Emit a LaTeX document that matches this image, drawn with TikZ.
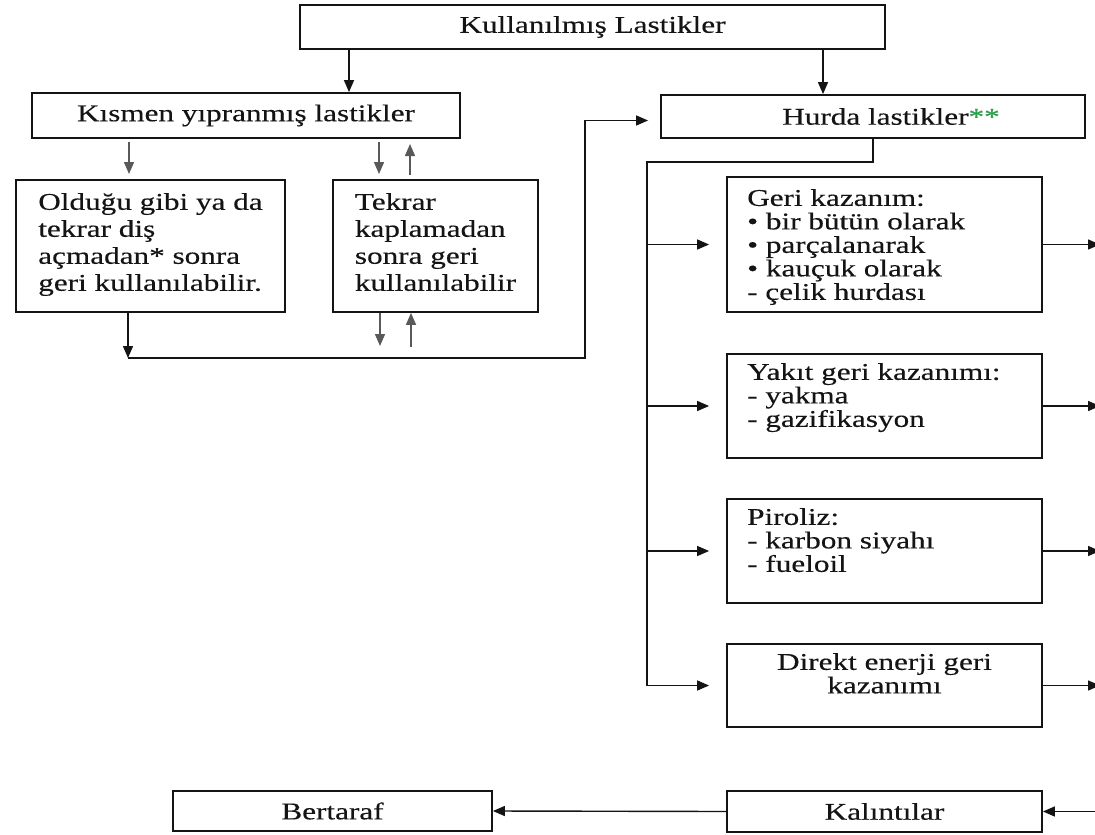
\documentclass[tikz,border=0pt]{standalone}
\usepackage{fontspec}
\setmainfont{Liberation Serif}[FakeStretch=1.3,FakeBold=0.3]
\usetikzlibrary{arrows.meta}
\definecolor{ink}{HTML}{141414}
\definecolor{starg}{HTML}{2E9E4F}
\begin{document}
\begin{tikzpicture}[x=1pt,y=-1pt,
  box/.style={draw=ink, line width=1.8pt, inner sep=0pt, text=ink,
              font=\fontsize{24}{27}\selectfont},
  txt/.style={inner sep=0pt, align=left, text=ink,
              font=\fontsize{24}{23.5}\selectfont},
  conn/.style={draw=ink, line width=1.4pt},
  arr/.style={conn, -{Triangle[length=12pt,width=10pt]}},
  sarr/.style={arr, draw=black!65},
]
\fill[white] (0,0) rectangle (1095,835);
\useasboundingbox (0,0) rectangle (1095,835);

% main boxes
\node[box, minimum width=585pt, minimum height=44pt] (top) at (592.5,27) {Kullanılmış Lastikler};
\node[box, minimum width=428pt, minimum height=45pt] (kismen) at (246,115.5) {Kısmen yıpranmış lastikler};
\node[box, minimum width=424pt, minimum height=43pt] (hurda) at (873,116.5)
  {\hspace*{36pt}Hurda lastikler\textcolor{starg}{**}};

\node[box, align=left, minimum width=269pt, minimum height=132pt] (oldu) at (150.5,246)
  {Olduğu gibi ya da\\tekrar diş\\açmadan* sonra\\geri kullanılabilir.\strut};
\node[box, align=left, minimum width=205pt, minimum height=132pt] (tekrar) at (435.5,246)
  {Tekrar\\kaplamadan\\sonra geri\\kullanılabilir\strut};

% recovery routes
\node[box, minimum width=315pt, minimum height=135pt] (geri) at (884.5,244.5) {};
\node[txt, anchor=north west] (geri-t) at (747,189)
  {Geri kazanım:\\• bir bütün olarak\\• parçalanarak\\• kauçuk olarak\\- çelik hurdası};
\node[box, minimum width=315pt, minimum height=104pt] (yakit) at (884.5,406) {};
\node[txt, anchor=north west] (yakit-t) at (747,363)
  {Yakıt geri kazanımı:\\- yakma\\- gazifikasyon};
\node[box, minimum width=315pt, minimum height=104pt] (piroliz) at (884.5,551) {};
\node[txt, anchor=north west] (piroliz-t) at (747,508)
  {Piroliz:\\- karbon siyahı\\- fueloil};
\node[box, minimum width=315pt, minimum height=83pt] (direkt) at (884.5,685.5) {};
\node[txt, align=center, anchor=north] (direkt-t) at (884.5,653)
  {Direkt enerji geri\\kazanımı};

\node[box, minimum width=315pt, minimum height=41pt] (kalinti) at (884.5,811.5) {Kalıntılar};
\node[box, minimum width=319pt, minimum height=40pt] (bertaraf) at (332.5,811) {Bertaraf};

% helper points
\coordinate (c1) at (349,0);
\coordinate (c2) at (823,0);
\coordinate (edge) at (1100,0);
\coordinate (tr) at (647,162);
\coordinate (fb) at (128,358);
\coordinate (fc) at (585,358);
\coordinate (k1a) at (129,142); \coordinate (k1b) at (129,174);
\coordinate (k2a) at (379,142); \coordinate (k2b) at (379,174);
\coordinate (k3a) at (410,175); \coordinate (k3b) at (410,144);
\coordinate (td) at (380,346);
\coordinate (tu) at (411,347);

% top split
\draw[arr] (top.south -| c1) -- (kismen.north -| c1);
\draw[arr] (top.south -| c2) -- (hurda.north -| c2);

% partially worn tyres
\draw[sarr] (k1a) -- (k1b);
\draw[sarr] (k2a) -- (k2b);
\draw[sarr] (k3a) -- (k3b);
\draw[sarr] ([xshift=-55.5pt]tekrar.south) -- (td);
\draw[sarr] (tu) -- ([xshift=-24.5pt]tekrar.south);
\draw[arr] ([xshift=-22.5pt]oldu.south) -- (fb);
\draw[arr] (fb) -- (fc) |- ([shift={(-12pt,-4pt)}]hurda.west);

% scrap tyres to the routes
\draw[arr] (hurda.south) |- (tr) |- ([xshift=-17pt]direkt.west);
\draw[arr] (tr |- geri.west) -- ([xshift=-17pt]geri.west);
\draw[arr] (tr |- yakit.west) -- ([xshift=-17pt]yakit.west);
\draw[arr] (tr |- piroliz.west) -- ([xshift=-17pt]piroliz.west);

% outputs
\draw[arr] (geri.east) -- (geri.east -| edge);
\draw[arr] (yakit.east) -- (yakit.east -| edge);
\draw[arr] (piroliz.east) -- (piroliz.east -| edge);
\draw[arr] (direkt.east) -- (direkt.east -| edge);
\draw[arr] (kalinti.east -| edge) -- (kalinti.east);
\draw[arr] (kalinti.west) -- (bertaraf.east);
\end{tikzpicture}
\end{document}
